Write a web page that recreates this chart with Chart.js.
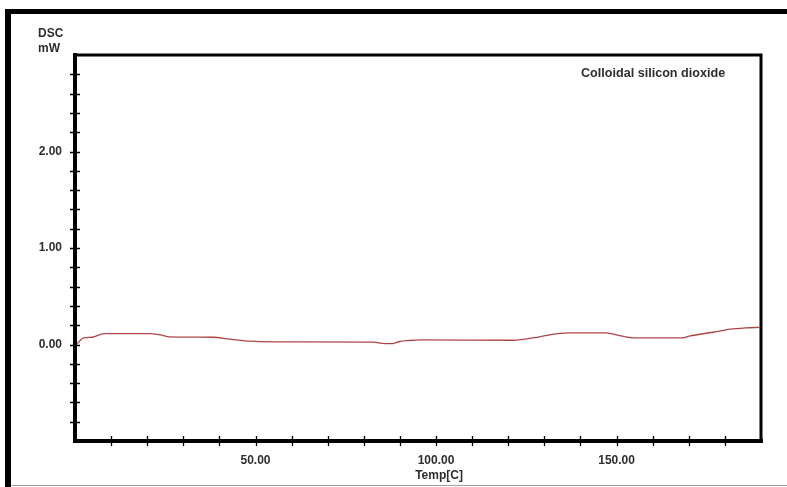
<!DOCTYPE html>
<html>
<head>
<meta charset="utf-8">
<script src="https://cdn.jsdelivr.net/npm/chart.js@4.4.0/dist/chart.umd.min.js"></script>
<style>
  html, body { margin: 0; padding: 0; background: #ffffff; }
  #wrap { width: 787px; height: 487px; }
</style>
</head>
<body>
<div id="wrap"><canvas id="c" width="787" height="487"></canvas></div>
<script>
// DSC trace: temperature (°C) and heat flow (mW)
const temperature = [0.4, 2.4, 4.8, 8.0, 20.9, 24.5, 25.9, 38.4, 42.1, 48.5, 55.9, 82.6, 85.8, 88.1, 89.9, 92.3, 95.5, 121.3, 128.7, 133.3, 137.0, 147.1, 150.8, 154.9, 168.3, 170.1, 176.6, 182.1, 185.8, 189.5];
const heatFlow    = [0.000, 0.069, 0.075, 0.113, 0.113, 0.093, 0.079, 0.075, 0.059, 0.034, 0.028, 0.024, 0.010, 0.010, 0.031, 0.041, 0.048, 0.044, 0.080, 0.110, 0.121, 0.121, 0.093, 0.069, 0.069, 0.086, 0.127, 0.162, 0.172, 0.178];

// Labelled ticks; minor ticks fall every 10 °C and every 0.2 mW
const xTickLabels = [50, 100, 150];
const yTickLabels = [0, 1, 2];

const sampleName = 'Colloidal silicon dioxide';
const yUnitLines = ['DSC', 'mW'];
const xAxisTitle = 'Temp[C]';

const FONT = 'Liberation Sans, Arial, sans-serif';
const TEXT = '#2e2e2e';

const points = temperature.map((t, i) => ({ x: t, y: heatFlow[i] }));

// Outer frame of the instrument printout
const framePlugin = {
  id: 'frame',
  beforeDraw(chart) {
    const ctx = chart.ctx;
    ctx.save();
    ctx.fillStyle = '#ffffff';
    ctx.fillRect(0, 0, chart.width, chart.height);
    ctx.fillStyle = '#000000';
    ctx.fillRect(5, 9, 6, 478);
    ctx.fillRect(5, 9, chart.width - 5, 5);
    ctx.fillStyle = '#a0a0a0';
    ctx.fillRect(11, 485, chart.width - 11, 1);
    ctx.restore();
  }
};

// Plot box, crossing tick marks and the free-standing texts
const axesPlugin = {
  id: 'axesBox',
  afterDatasetsDraw(chart) {
    const { ctx, chartArea: a, scales } = chart;
    const xs = scales.x, ys = scales.y;
    ctx.save();
    ctx.strokeStyle = '#000000';
    ctx.lineCap = 'square';
    // box
    ctx.lineWidth = 3;
    ctx.beginPath();
    ctx.moveTo(a.left, a.top); ctx.lineTo(a.right, a.top); ctx.lineTo(a.right, a.bottom);
    ctx.stroke();
    ctx.lineWidth = 4;
    ctx.beginPath();
    ctx.moveTo(a.left, a.top); ctx.lineTo(a.left, a.bottom); ctx.lineTo(a.right, a.bottom);
    ctx.stroke();
    // ticks
    ctx.lineWidth = 1.3;
    ctx.lineCap = 'butt';
    ctx.beginPath();
    xs.ticks.forEach(t => {
      if (t.value <= xs.min || t.value >= xs.max) return;
      const px = Math.round(xs.getPixelForValue(t.value)) + 0.5;
      ctx.moveTo(px, a.bottom - 5); ctx.lineTo(px, a.bottom + 5);
    });
    ys.ticks.forEach(t => {
      if (t.value <= ys.min + 1e-9 || t.value >= ys.max - 1e-9) return;
      const py = Math.round(ys.getPixelForValue(t.value)) + 0.5;
      ctx.moveTo(a.left - 5, py); ctx.lineTo(a.left + 5, py);
    });
    ctx.stroke();

    ctx.fillStyle = TEXT;
    ctx.font = 'bold 12px ' + FONT;
    ctx.textBaseline = 'alphabetic';
    ctx.textAlign = 'left';
    ctx.fillText(yUnitLines[0], 38, 37);
    ctx.fillText(yUnitLines[1], 38, 52);
    ctx.textAlign = 'center';
    ctx.fillText(xAxisTitle, xs.getPixelForValue(100) + 3, 479);
    ctx.font = 'bold 12.6px ' + FONT;
    ctx.textAlign = 'left';
    ctx.fillText(sampleName, 581, 77);
    ctx.restore();
  }
};

const near = (v, list) => list.find(l => Math.abs(v - l) < 1e-6);

new Chart(document.getElementById('c'), {
  type: 'line',
  data: {
    datasets: [{
      label: sampleName,
      data: points,
      borderColor: '#b04444',
      borderWidth: 1.3,
      pointRadius: 0,
      fill: false,
      cubicInterpolationMode: 'monotone'
    }]
  },
  options: {
    responsive: false,
    devicePixelRatio: 1,
    animation: false,
    layout: { padding: { left: 0, top: 55, right: 26, bottom: 0 } },
    plugins: { legend: { display: false }, tooltip: { enabled: false }, title: { display: false } },
    scales: {
      x: {
        type: 'linear',
        min: 0, max: 190,
        grid: { display: false, drawTicks: false },
        border: { display: false },
        ticks: {
          stepSize: 10,
          autoSkip: false,
          maxRotation: 0,
          padding: 12,
          color: TEXT,
          font: { family: FONT, size: 12, weight: 'bold' },
          callback: v => (near(v, xTickLabels) !== undefined ? Number(v).toFixed(2) : '')
        },
        afterFit: s => { s.height = 46; }
      },
      y: {
        type: 'linear',
        min: -1, max: 3,
        grid: { display: false, drawTicks: false },
        border: { display: false },
        ticks: {
          stepSize: 0.2,
          autoSkip: false,
          padding: 13,
          color: TEXT,
          font: { family: FONT, size: 12, weight: 'bold' },
          callback: v => (near(v, yTickLabels) !== undefined ? Number(v).toFixed(2) : '')
        },
        afterFit: s => { s.width = 75; }
      }
    }
  },
  plugins: [framePlugin, axesPlugin]
});
</script>
</body>
</html>
